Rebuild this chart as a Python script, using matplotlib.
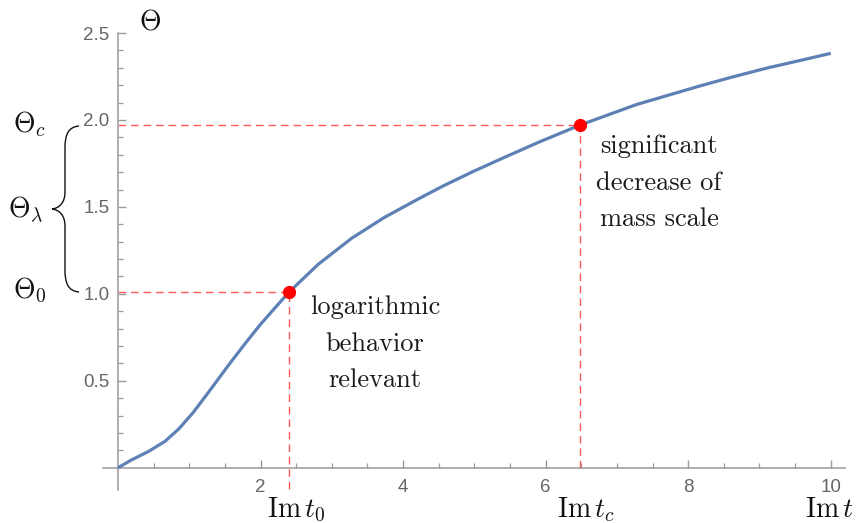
import matplotlib
matplotlib.use("Agg")
import matplotlib.pyplot as plt
from matplotlib.path import Path
from matplotlib.patches import PathPatch

plt.rcParams['mathtext.fontset'] = 'cm'

# Data
im_t = [0.0, 0.19, 0.43, 0.66, 0.85, 1.056, 1.29, 1.524, 1.757, 1.99, 2.226, 2.40,
        2.81, 3.28, 3.74, 4.21, 4.56, 4.98, 5.45, 5.92, 6.48, 7.27, 8.16, 8.63,
        9.10, 9.57, 10.0]
theta = [0.0, 0.045, 0.094, 0.152, 0.222, 0.318, 0.445, 0.575, 0.70, 0.82, 0.93, 1.01,
         1.17, 1.32, 1.44, 1.545, 1.62, 1.703, 1.79, 1.875, 1.97, 2.088, 2.195, 2.248,
         2.298, 2.342, 2.383]
mark_t = [2.40, 6.48]
mark_theta = [1.01, 1.97]
x_ticks = [2, 4, 6, 8, 10]
y_ticks = [0.5, 1.0, 1.5, 2.0, 2.5]
notes = ["logarithmic\nbehavior\nrelevant", "significant\ndecrease of\nmass scale"]

W, H = 857, 523
fig = plt.figure(figsize=(W / 100, H / 100), dpi=100)

def fx(px):
    return px / W

def fy(py):
    return 1 - py / H

ax = fig.add_axes([fx(103), fy(490), (845 - 103) / W, (490 - 33) / H])
ax.set_xlim(-0.21, 10.2)
ax.set_ylim(-0.128, 2.5)

for s in ['top', 'right']:
    ax.spines[s].set_visible(False)
for s in ['left', 'bottom']:
    ax.spines[s].set_position(('data', 0))
    ax.spines[s].set_color('#9a9a9a')
    ax.spines[s].set_linewidth(1.1)

ax.set_xticks(x_ticks)
ax.set_xticklabels([str(v) for v in x_ticks])
ax.set_yticks(y_ticks)
ax.set_yticklabels([f"{v:.1f}" for v in y_ticks])
ax.set_xticks([v * 0.5 for v in range(1, 21)], minor=True)
ax.set_yticks([v * 0.1 for v in range(1, 26)], minor=True)
ax.tick_params(which='major', direction='in', length=6, width=1, color='#9a9a9a',
               labelcolor='#666666', labelsize=13.5, pad=6)
ax.tick_params(which='minor', direction='in', length=3.5, width=0.9, color='#9a9a9a')
ax.tick_params(axis='x', which='major', pad=8)
for lab in ax.get_xticklabels() + ax.get_yticklabels():
    lab.set_family('Liberation Sans')

# dashed guides
red_d = '#ff5a5a'
dash = (5.5, 3.5)
ax.plot([0, mark_t[0]], [mark_theta[0], mark_theta[0]], color=red_d, lw=1.0, dashes=dash)
ax.plot([0, mark_t[1]], [mark_theta[1], mark_theta[1]], color=red_d, lw=1.0, dashes=dash)
ax.plot([mark_t[0], mark_t[0]], [-0.12, mark_theta[0]], color=red_d, lw=1.0, dashes=dash)
ax.plot([mark_t[1], mark_t[1]], [0, mark_theta[1]], color=red_d, lw=1.0, dashes=dash)

ax.plot(im_t, theta, color='#5e81b5', lw=2.3, solid_joinstyle='round',
        solid_capstyle='butt', zorder=3)
ax.plot(mark_t, mark_theta, 'o', color='#ff0000', ms=8.5, zorder=4)

# annotations
note_kw = dict(ha='center', va='top', family='cmr10', fontsize=19,
               linespacing=1.7, color='#1a1a1a')
fig.text(fx(375), fy(295), notes[0], **note_kw)
fig.text(fx(659), fy(134), notes[1], **note_kw)

# math labels
lab_kw = dict(fontsize=20, color='#111111', va='baseline')
fig.text(fx(139), fy(30), r'$\Theta$', ha='left', **lab_kw)
fig.text(fx(853), fy(517), r'$\mathrm{Im}\,t$', ha='right', **lab_kw)
fig.text(fx(296), fy(517), r'$\mathrm{Im}\,t_0$', ha='center', **lab_kw)
fig.text(fx(586), fy(517), r'$\mathrm{Im}\,t_c$', ha='center', **lab_kw)
fig.text(fx(13), fy(132), r'$\Theta_c$', ha='left', **lab_kw)
fig.text(fx(8), fy(218), r'$\Theta_\lambda$', ha='left', **lab_kw)
fig.text(fx(13), fy(298), r'$\Theta_0$', ha='left', **lab_kw)

# curly brace
pts = [(79, 126), (68, 127), (65, 135), (65, 148),
       (65, 192),
       (65, 202), (60, 208), (52, 209),
       (60, 210), (65, 216), (65, 226),
       (65, 270),
       (65, 283), (68, 291), (79, 292)]
codes = [Path.MOVETO, Path.CURVE4, Path.CURVE4, Path.CURVE4,
         Path.LINETO,
         Path.CURVE4, Path.CURVE4, Path.CURVE4,
         Path.CURVE4, Path.CURVE4, Path.CURVE4,
         Path.LINETO,
         Path.CURVE4, Path.CURVE4, Path.CURVE4]
path = Path([(fx(x), fy(y)) for x, y in pts], codes)
fig.patches.append(PathPatch(path, transform=fig.transFigure, fill=False,
                             edgecolor='#111111', lw=1.0))

fig.savefig('out.png', dpi=100)
